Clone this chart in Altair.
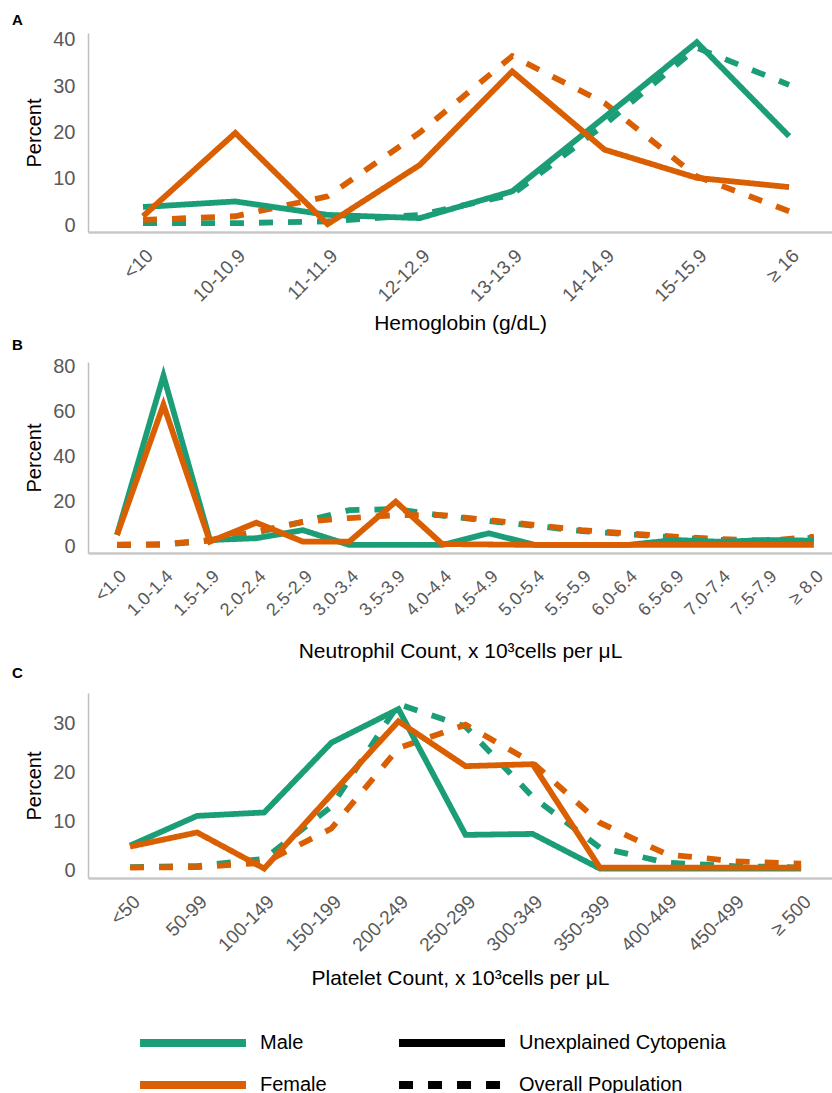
import json
import altair as alt
import pandas as pd

GREEN = "#1b9e77"
ORANGE = "#d95f02"
FONT = "Liberation Sans"

sexes = ["Male", "Female"]
groups = ["Unexplained Cytopenia", "Overall Population"]

# ---- Panel A: Hemoglobin ----
hgb_cats = ["<10", "10-10.9", "11-11.9", "12-12.9", "13-13.9", "14-14.9", "15-15.9", "≥ 16"]
hgb_male_uc = [3.9, 5.1, 2.2, 1.5, 7.3, 23.3, 39.5, 19.2]
hgb_male_op = [0.4, 0.4, 0.8, 2.2, 6.6, 21.7, 38.3, 30.3]
hgb_female_uc = [1.9, 19.9, 0.2, 13.0, 33.2, 16.3, 10.2, 8.2]
hgb_female_op = [1.1, 1.9, 6.2, 20.0, 36.5, 26.4, 10.5, 3.0]

# ---- Panel B: Neutrophil count ----
neut_cats = ["<1.0", "1.0-1.4", "1.5-1.9", "2.0-2.4", "2.5-2.9", "3.0-3.4", "3.5-3.9", "4.0-4.4",
             "4.5-4.9", "5.0-5.4", "5.5-5.9", "6.0-6.4", "6.5-6.9", "7.0-7.4", "7.5-7.9", "≥ 8.0"]
neut_male_uc = [5.0, 76.0, 2.7, 3.5, 7.1, 0.5, 0.5, 0.5, 5.7, 0.5, 0.5, 0.5, 2.7, 1.9, 2.7, 2.4]
neut_male_op = [0.4, 0.6, 2.4, 6.0, 10.8, 16.0, 16.5, 13.6, 11.2, 9.0, 6.7, 5.3, 3.8, 2.7, 2.0, 3.8]
neut_female_uc = [4.9, 63.0, 2.0, 10.4, 2.0, 2.0, 19.8, 0.9, 0.7, 0.5, 0.5, 0.5, 0.5, 0.5, 0.5, 0.5]
neut_female_op = [0.6, 0.9, 2.7, 6.4, 10.8, 12.5, 13.8, 13.8, 11.6, 9.4, 7.1, 5.7, 4.2, 3.1, 2.4, 4.2]

# ---- Panel C: Platelet count ----
plt_cats = ["<50", "50-99", "100-149", "150-199", "200-249", "250-299", "300-349", "350-399",
            "400-449", "450-499", "≥ 500"]
plt_male_uc = [5.0, 11.1, 11.8, 26.1, 33.0, 7.2, 7.4, 0.3, 0.3, 0.3, 0.3]
plt_male_op = [0.6, 0.8, 2.3, 13.0, 34.0, 29.4, 15.0, 4.6, 1.5, 0.8, 0.5]
plt_female_uc = [4.8, 7.7, 0.3, 15.5, 30.5, 21.3, 21.7, 0.5, 0.5, 0.5, 0.5]
plt_female_op = [0.5, 0.6, 1.5, 8.5, 25.0, 29.8, 22.0, 9.7, 3.2, 1.8, 1.3]

# long horizontal stroke used as legend symbol (scaled by sqrt(size)/2)
LEG_PATH = "M-5,0L5,0"
LEG_SIZE = 449


def long_table(cats, series):
    rows = []
    for order, (sex, grp, vals) in enumerate(series):
        for i, (c, v) in enumerate(zip(cats, vals)):
            rows.append(dict(idx=i, cat=c, sex=sex, group=grp, value=v, ord=order))
    return pd.DataFrame(rows)


def panel(cats, series, xdom, ydom, yvals, height, xtitle, letter, letter_offset,
          title_pad, label_size):
    df = long_table(cats, series)
    label_expr = json.dumps(cats, ensure_ascii=False) + "[datum.value]"
    return alt.Chart(df).mark_line(
        strokeWidth=5.8, strokeCap="butt", strokeJoin="miter"
    ).encode(
        x=alt.X("idx:Q",
                scale=alt.Scale(domain=xdom, nice=False, zero=False),
                axis=alt.Axis(values=list(range(len(cats))), labelExpr=label_expr,
                              labelAngle=-45, title=xtitle, titlePadding=title_pad,
                              labelFontSize=label_size, labelOverlap=False,
                              labelBound=False)),
        y=alt.Y("value:Q",
                scale=alt.Scale(domain=ydom, nice=False, zero=False),
                axis=alt.Axis(values=yvals, title="Percent", orient="left",
                              domainColor="#bfbfbf", domainWidth=1.5)),
        color=alt.Color("sex:N", scale=alt.Scale(domain=sexes, range=[GREEN, ORANGE]),
                        legend=alt.Legend(orient="none", legendX=90, legendY=995,
                                          title=None, symbolType=LEG_PATH,
                                          symbolStrokeWidth=8, symbolSize=LEG_SIZE,
                                          labelOffset=52, rowPadding=10,
                                          labelLimit=300)),
        strokeDash=alt.StrokeDash("group:N",
                                  scale=alt.Scale(domain=groups, range=[[1, 0], [14, 15]]),
                                  legend=alt.Legend(orient="none", legendX=349, legendY=995,
                                                    title=None, symbolType=LEG_PATH,
                                                    symbolStrokeWidth=8, symbolSize=LEG_SIZE,
                                                    symbolStrokeColor="black",
                                                    labelOffset=52, rowPadding=10,
                                                    labelLimit=300)),
        order=alt.Order("ord:Q"),
    ).properties(
        width=744, height=height,
        title=alt.TitleParams(letter, anchor="start", frame="group", dx=-76,
                              offset=letter_offset, fontSize=15, fontWeight="bold",
                              font=FONT, color="black"),
    )


pA = panel(hgb_cats,
           [("Male", groups[1], hgb_male_op), ("Female", groups[1], hgb_female_op),
            ("Male", groups[0], hgb_male_uc), ("Female", groups[0], hgb_female_uc)],
           [-0.596, 7.465], [-1.5, 41.5], [0, 10, 20, 30, 40], 199,
           "Hemoglobin (g/dL)", "A", 2, 7, 19)
pB = panel(neut_cats,
           [("Male", groups[1], neut_male_op), ("Female", groups[1], neut_female_op),
            ("Male", groups[0], neut_male_uc), ("Female", groups[0], neut_female_uc)],
           [-0.624, 15.39], [-3.1, 82.1], [0, 20, 40, 60, 80], 191,
           "Neutrophil Count, x 10³cells per μL", "B", 4, 21, 18)
pC = panel(plt_cats,
           [("Male", groups[1], plt_male_op), ("Female", groups[1], plt_female_op),
            ("Male", groups[0], plt_male_uc), ("Female", groups[0], plt_female_uc)],
           [-0.626, 10.46], [-1.64, 36.3], [0, 10, 20, 30], 185,
           "Platelet Count, x 10³cells per μL", "C", 12, 13, 19)

chart = alt.vconcat(pA, pB, pC, spacing=3).properties(
    padding={"left": 12, "top": 12, "right": 0, "bottom": 0}
).configure(
    font=FONT,
).configure_view(
    stroke=None,
).configure_axis(
    grid=False, ticks=False, labelFont=FONT, titleFont=FONT,
    labelColor="#595959", labelFontSize=20, titleFontSize=20,
    titleColor="black", titleFontWeight="normal",
    labelPadding=13, titlePadding=8,
).configure_axisX(
    domainColor="#c8c8c8", domainWidth=2.5, labelPadding=14, titleFontSize=21,
).configure_legend(
    labelFont=FONT, labelFontSize=20, labelColor="black", padding=0,
)

chart.save("out.html", embed_options={"renderer": "svg", "actions": False})
